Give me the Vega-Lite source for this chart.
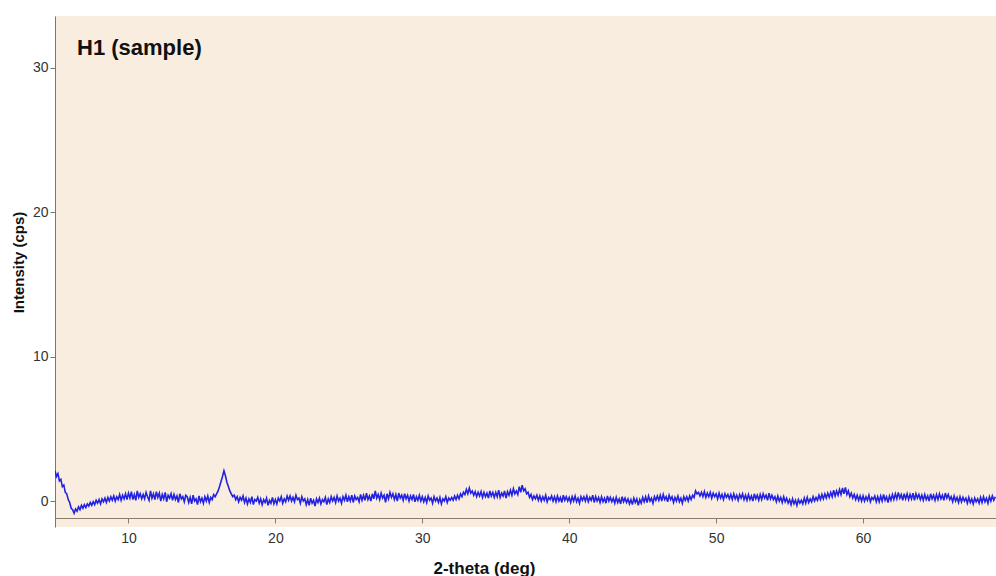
{
"$schema": "https://vega.github.io/schema/vega-lite/v6.json",
"width": 941, "height": 511,
"autosize": "none",
"padding": {"left": 55, "top": 16, "right": 0, "bottom": 49},
"background": "white",
"config": {"view": {"stroke": null, "fill": "#f9ede0"}, "font": "Liberation Sans"},
"title": {"text": "H1 (sample)", "anchor": "start", "frame": "group", "orient": "top", "offset": 0, "baseline": "alphabetic", "dx": 22, "dy": 61, "fontSize": 22, "fontWeight": "bold", "color": "#111111"},
"data": {"values": [
{"x":5.0,"y":2.1},{"x":5.1,"y":1.7},{"x":5.2,"y":1.9},{"x":5.3,"y":1.4},{"x":5.4,"y":1.5},{"x":5.5,"y":1.0},{"x":5.6,"y":1.1},{"x":5.7,"y":0.6},{"x":5.8,"y":0.5},{"x":5.9,"y":0.1},
{"x":6.0,"y":-0.1},{"x":6.1,"y":-0.5},{"x":6.2,"y":-0.6},{"x":6.3,"y":-0.85},{"x":6.4,"y":-0.55},{"x":6.5,"y":-0.7},{"x":6.6,"y":-0.4},{"x":6.7,"y":-0.6},{"x":6.8,"y":-0.3},{"x":6.9,"y":-0.5},
{"x":7.0,"y":-0.25},{"x":7.1,"y":-0.45},{"x":7.2,"y":-0.2},{"x":7.3,"y":-0.35},{"x":7.4,"y":-0.1},{"x":7.5,"y":-0.3},{"x":7.6,"y":-0.05},{"x":7.7,"y":-0.25},{"x":7.8,"y":0.05},{"x":7.9,"y":-0.15},
{"x":8.0,"y":0.1},{"x":8.1,"y":-0.2},{"x":8.2,"y":0.15},{"x":8.3,"y":-0.05},{"x":8.4,"y":0.2},{"x":8.5,"y":-0.1},{"x":8.6,"y":0.25},{"x":8.7,"y":0.0},{"x":8.8,"y":0.3},{"x":8.9,"y":0.05},
{"x":9.0,"y":0.35},{"x":9.1,"y":0.0},{"x":9.2,"y":0.3},{"x":9.3,"y":0.1},{"x":9.4,"y":0.45},{"x":9.5,"y":0.05},{"x":9.6,"y":0.4},{"x":9.7,"y":0.15},{"x":9.8,"y":0.5},{"x":9.9,"y":0.1},
{"x":10.0,"y":0.55},{"x":10.1,"y":0.2},{"x":10.2,"y":0.65},{"x":10.3,"y":0.1},{"x":10.4,"y":0.45},{"x":10.5,"y":0.05},{"x":10.6,"y":0.7},{"x":10.7,"y":0.25},{"x":10.8,"y":0.5},{"x":10.9,"y":0.15},
{"x":11.0,"y":0.45},{"x":11.1,"y":0.15},{"x":11.2,"y":0.6},{"x":11.3,"y":0.3},{"x":11.4,"y":0.05},{"x":11.5,"y":0.7},{"x":11.6,"y":0.2},{"x":11.7,"y":0.5},{"x":11.8,"y":0.1},{"x":11.9,"y":0.65},
{"x":12.0,"y":0.25},{"x":12.1,"y":0.55},{"x":12.2,"y":0.0},{"x":12.3,"y":0.45},{"x":12.4,"y":0.15},{"x":12.5,"y":0.6},{"x":12.6,"y":-0.05},{"x":12.7,"y":0.4},{"x":12.8,"y":0.2},{"x":12.9,"y":0.5},
{"x":13.0,"y":0.05},{"x":13.1,"y":0.45},{"x":13.2,"y":0.1},{"x":13.3,"y":0.35},{"x":13.4,"y":-0.1},{"x":13.5,"y":0.5},{"x":13.6,"y":0.15},{"x":13.7,"y":0.3},{"x":13.8,"y":-0.05},{"x":13.9,"y":0.4},
{"x":14.0,"y":0.3},{"x":14.1,"y":-0.1},{"x":14.2,"y":0.25},{"x":14.3,"y":-0.2},{"x":14.4,"y":0.4},{"x":14.5,"y":0.0},{"x":14.6,"y":0.15},{"x":14.7,"y":-0.25},{"x":14.8,"y":0.35},{"x":14.9,"y":-0.05},
{"x":15.0,"y":0.2},{"x":15.1,"y":-0.15},{"x":15.2,"y":0.3},{"x":15.3,"y":0.0},{"x":15.4,"y":0.35},{"x":15.5,"y":-0.1},{"x":15.6,"y":0.25},{"x":15.7,"y":0.1},{"x":15.8,"y":0.45},{"x":15.9,"y":0.3},
{"x":16.0,"y":0.5},{"x":16.1,"y":0.7},{"x":16.2,"y":1.0},{"x":16.3,"y":1.35},{"x":16.4,"y":1.7},{"x":16.5,"y":2.1},{"x":16.6,"y":1.75},{"x":16.7,"y":1.3},{"x":16.8,"y":1.0},{"x":16.9,"y":0.7},
{"x":17.0,"y":0.5},{"x":17.1,"y":0.3},{"x":17.2,"y":0.4},{"x":17.3,"y":0.1},{"x":17.4,"y":0.3},{"x":17.5,"y":-0.05},{"x":17.6,"y":0.25},{"x":17.7,"y":0.05},{"x":17.8,"y":0.35},{"x":17.9,"y":-0.1},
{"x":18.0,"y":0.2},{"x":18.1,"y":-0.2},{"x":18.2,"y":0.15},{"x":18.3,"y":-0.1},{"x":18.4,"y":0.3},{"x":18.5,"y":-0.25},{"x":18.6,"y":0.1},{"x":18.7,"y":0.0},{"x":18.8,"y":0.25},{"x":18.9,"y":-0.15},
{"x":19.0,"y":0.15},{"x":19.1,"y":-0.25},{"x":19.2,"y":0.1},{"x":19.3,"y":-0.1},{"x":19.4,"y":0.2},{"x":19.5,"y":-0.3},{"x":19.6,"y":0.05},{"x":19.7,"y":-0.15},{"x":19.8,"y":0.25},{"x":19.9,"y":-0.2},
{"x":20.0,"y":0.1},{"x":20.1,"y":-0.2},{"x":20.2,"y":0.2},{"x":20.3,"y":0.0},{"x":20.4,"y":0.3},{"x":20.5,"y":-0.15},{"x":20.6,"y":0.15},{"x":20.7,"y":-0.05},{"x":20.8,"y":0.35},{"x":20.9,"y":0.05},
{"x":21.0,"y":0.35},{"x":21.1,"y":0.0},{"x":21.2,"y":0.25},{"x":21.3,"y":-0.05},{"x":21.4,"y":0.4},{"x":21.5,"y":0.1},{"x":21.6,"y":0.2},{"x":21.7,"y":-0.15},{"x":21.8,"y":0.3},{"x":21.9,"y":0.0},
{"x":22.0,"y":0.15},{"x":22.1,"y":-0.25},{"x":22.2,"y":0.1},{"x":22.3,"y":-0.3},{"x":22.4,"y":0.2},{"x":22.5,"y":-0.15},{"x":22.6,"y":0.05},{"x":22.7,"y":-0.35},{"x":22.8,"y":0.15},{"x":22.9,"y":-0.1},
{"x":23.0,"y":0.2},{"x":23.1,"y":-0.2},{"x":23.2,"y":0.1},{"x":23.3,"y":-0.05},{"x":23.4,"y":0.25},{"x":23.5,"y":-0.25},{"x":23.6,"y":0.15},{"x":23.7,"y":-0.1},{"x":23.8,"y":0.3},{"x":23.9,"y":0.0},
{"x":24.0,"y":0.25},{"x":24.1,"y":-0.1},{"x":24.2,"y":0.35},{"x":24.3,"y":0.0},{"x":24.4,"y":0.2},{"x":24.5,"y":-0.15},{"x":24.6,"y":0.3},{"x":24.7,"y":0.05},{"x":24.8,"y":0.4},{"x":24.9,"y":-0.05},
{"x":25.0,"y":0.3},{"x":25.1,"y":0.0},{"x":25.2,"y":0.4},{"x":25.3,"y":-0.1},{"x":25.4,"y":0.35},{"x":25.5,"y":0.1},{"x":25.6,"y":0.25},{"x":25.7,"y":-0.05},{"x":25.8,"y":0.45},{"x":25.9,"y":0.05},
{"x":26.0,"y":0.4},{"x":26.1,"y":0.05},{"x":26.2,"y":0.55},{"x":26.3,"y":0.1},{"x":26.4,"y":0.35},{"x":26.5,"y":0.0},{"x":26.6,"y":0.5},{"x":26.7,"y":0.15},{"x":26.8,"y":0.7},{"x":26.9,"y":0.2},
{"x":27.0,"y":0.45},{"x":27.1,"y":0.1},{"x":27.2,"y":0.55},{"x":27.3,"y":0.2},{"x":27.4,"y":0.4},{"x":27.5,"y":-0.1},{"x":27.6,"y":0.5},{"x":27.7,"y":0.15},{"x":27.8,"y":0.6},{"x":27.9,"y":0.25},
{"x":28.0,"y":0.5},{"x":28.1,"y":0.1},{"x":28.2,"y":0.45},{"x":28.3,"y":0.0},{"x":28.4,"y":0.55},{"x":28.5,"y":0.2},{"x":28.6,"y":0.4},{"x":28.7,"y":0.05},{"x":28.8,"y":0.5},{"x":28.9,"y":0.15},
{"x":29.0,"y":0.4},{"x":29.1,"y":0.0},{"x":29.2,"y":0.35},{"x":29.3,"y":0.1},{"x":29.4,"y":0.45},{"x":29.5,"y":-0.05},{"x":29.6,"y":0.3},{"x":29.7,"y":0.05},{"x":29.8,"y":0.4},{"x":29.9,"y":0.0},
{"x":30.0,"y":0.3},{"x":30.1,"y":-0.05},{"x":30.2,"y":0.25},{"x":30.3,"y":-0.1},{"x":30.4,"y":0.35},{"x":30.5,"y":0.05},{"x":30.6,"y":0.2},{"x":30.7,"y":-0.15},{"x":30.8,"y":0.3},{"x":30.9,"y":0.0},
{"x":31.0,"y":0.2},{"x":31.1,"y":-0.1},{"x":31.2,"y":0.25},{"x":31.3,"y":-0.2},{"x":31.4,"y":0.15},{"x":31.5,"y":0.0},{"x":31.6,"y":0.3},{"x":31.7,"y":-0.1},{"x":31.8,"y":0.2},{"x":31.9,"y":0.05},
{"x":32.0,"y":0.25},{"x":32.1,"y":0.05},{"x":32.2,"y":0.35},{"x":32.3,"y":0.1},{"x":32.4,"y":0.4},{"x":32.5,"y":0.15},{"x":32.6,"y":0.5},{"x":32.7,"y":0.3},{"x":32.8,"y":0.6},{"x":32.9,"y":0.45},
{"x":33.0,"y":0.8},{"x":33.1,"y":0.5},{"x":33.2,"y":0.9},{"x":33.3,"y":0.55},{"x":33.4,"y":0.7},{"x":33.5,"y":0.4},{"x":33.6,"y":0.65},{"x":33.7,"y":0.3},{"x":33.8,"y":0.6},{"x":33.9,"y":0.35},
{"x":34.0,"y":0.65},{"x":34.1,"y":0.25},{"x":34.2,"y":0.6},{"x":34.3,"y":0.3},{"x":34.4,"y":0.55},{"x":34.5,"y":0.2},{"x":34.6,"y":0.7},{"x":34.7,"y":0.35},{"x":34.8,"y":0.6},{"x":34.9,"y":0.25},
{"x":35.0,"y":0.6},{"x":35.1,"y":0.3},{"x":35.2,"y":0.75},{"x":35.3,"y":0.25},{"x":35.4,"y":0.55},{"x":35.5,"y":0.35},{"x":35.6,"y":0.7},{"x":35.7,"y":0.2},{"x":35.8,"y":0.65},{"x":35.9,"y":0.4},
{"x":36.0,"y":0.75},{"x":36.1,"y":0.4},{"x":36.2,"y":0.85},{"x":36.3,"y":0.5},{"x":36.4,"y":0.7},{"x":36.5,"y":0.45},{"x":36.6,"y":1.0},{"x":36.7,"y":0.6},{"x":36.8,"y":1.1},{"x":36.9,"y":0.7},
{"x":37.0,"y":0.85},{"x":37.1,"y":0.5},{"x":37.2,"y":0.6},{"x":37.3,"y":0.25},{"x":37.4,"y":0.45},{"x":37.5,"y":0.1},{"x":37.6,"y":0.35},{"x":37.7,"y":0.15},{"x":37.8,"y":0.4},{"x":37.9,"y":0.05},
{"x":38.0,"y":0.35},{"x":38.1,"y":0.0},{"x":38.2,"y":0.3},{"x":38.3,"y":0.05},{"x":38.4,"y":0.4},{"x":38.5,"y":-0.05},{"x":38.6,"y":0.25},{"x":38.7,"y":0.1},{"x":38.8,"y":0.35},{"x":38.9,"y":0.0},
{"x":39.0,"y":0.3},{"x":39.1,"y":-0.05},{"x":39.2,"y":0.35},{"x":39.3,"y":0.0},{"x":39.4,"y":0.25},{"x":39.5,"y":-0.1},{"x":39.6,"y":0.4},{"x":39.7,"y":0.05},{"x":39.8,"y":0.3},{"x":39.9,"y":0.0},
{"x":40.0,"y":0.25},{"x":40.1,"y":-0.1},{"x":40.2,"y":0.3},{"x":40.3,"y":0.0},{"x":40.4,"y":0.35},{"x":40.5,"y":-0.05},{"x":40.6,"y":0.2},{"x":40.7,"y":-0.15},{"x":40.8,"y":0.3},{"x":40.9,"y":0.05},
{"x":41.0,"y":0.3},{"x":41.1,"y":0.0},{"x":41.2,"y":0.35},{"x":41.3,"y":-0.05},{"x":41.4,"y":0.25},{"x":41.5,"y":0.05},{"x":41.6,"y":0.4},{"x":41.7,"y":-0.1},{"x":41.8,"y":0.3},{"x":41.9,"y":0.0},
{"x":42.0,"y":0.25},{"x":42.1,"y":-0.1},{"x":42.2,"y":0.3},{"x":42.3,"y":-0.05},{"x":42.4,"y":0.2},{"x":42.5,"y":-0.15},{"x":42.6,"y":0.35},{"x":42.7,"y":0.0},{"x":42.8,"y":0.25},{"x":42.9,"y":-0.05},
{"x":43.0,"y":0.2},{"x":43.1,"y":-0.15},{"x":43.2,"y":0.25},{"x":43.3,"y":-0.1},{"x":43.4,"y":0.15},{"x":43.5,"y":-0.2},{"x":43.6,"y":0.3},{"x":43.7,"y":-0.05},{"x":43.8,"y":0.2},{"x":43.9,"y":-0.1},
{"x":44.0,"y":0.15},{"x":44.1,"y":-0.2},{"x":44.2,"y":0.1},{"x":44.3,"y":-0.25},{"x":44.4,"y":0.2},{"x":44.5,"y":-0.1},{"x":44.6,"y":0.15},{"x":44.7,"y":-0.3},{"x":44.8,"y":0.1},{"x":44.9,"y":-0.15},
{"x":45.0,"y":0.25},{"x":45.1,"y":-0.05},{"x":45.2,"y":0.3},{"x":45.3,"y":-0.1},{"x":45.4,"y":0.35},{"x":45.5,"y":0.0},{"x":45.6,"y":0.2},{"x":45.7,"y":-0.15},{"x":45.8,"y":0.3},{"x":45.9,"y":0.05},
{"x":46.0,"y":0.35},{"x":46.1,"y":0.05},{"x":46.2,"y":0.4},{"x":46.3,"y":0.0},{"x":46.4,"y":0.45},{"x":46.5,"y":0.1},{"x":46.6,"y":0.3},{"x":46.7,"y":-0.05},{"x":46.8,"y":0.4},{"x":46.9,"y":0.1},
{"x":47.0,"y":0.3},{"x":47.1,"y":-0.1},{"x":47.2,"y":0.25},{"x":47.3,"y":0.0},{"x":47.4,"y":0.35},{"x":47.5,"y":-0.05},{"x":47.6,"y":0.2},{"x":47.7,"y":-0.15},{"x":47.8,"y":0.3},{"x":47.9,"y":0.05},
{"x":48.0,"y":0.3},{"x":48.1,"y":0.0},{"x":48.2,"y":0.35},{"x":48.3,"y":0.1},{"x":48.4,"y":0.4},{"x":48.5,"y":0.25},{"x":48.6,"y":0.7},{"x":48.7,"y":0.5},{"x":48.8,"y":0.6},{"x":48.9,"y":0.35},
{"x":49.0,"y":0.6},{"x":49.1,"y":0.3},{"x":49.2,"y":0.65},{"x":49.3,"y":0.25},{"x":49.4,"y":0.55},{"x":49.5,"y":0.3},{"x":49.6,"y":0.6},{"x":49.7,"y":0.2},{"x":49.8,"y":0.55},{"x":49.9,"y":0.3},
{"x":50.0,"y":0.5},{"x":50.1,"y":0.15},{"x":50.2,"y":0.55},{"x":50.3,"y":0.2},{"x":50.4,"y":0.45},{"x":50.5,"y":0.1},{"x":50.6,"y":0.5},{"x":50.7,"y":0.25},{"x":50.8,"y":0.45},{"x":50.9,"y":0.15},
{"x":51.0,"y":0.45},{"x":51.1,"y":0.1},{"x":51.2,"y":0.5},{"x":51.3,"y":0.15},{"x":51.4,"y":0.4},{"x":51.5,"y":0.05},{"x":51.6,"y":0.45},{"x":51.7,"y":0.2},{"x":51.8,"y":0.5},{"x":51.9,"y":0.1},
{"x":52.0,"y":0.4},{"x":52.1,"y":0.05},{"x":52.2,"y":0.45},{"x":52.3,"y":0.1},{"x":52.4,"y":0.35},{"x":52.5,"y":0.0},{"x":52.6,"y":0.5},{"x":52.7,"y":0.15},{"x":52.8,"y":0.4},{"x":52.9,"y":0.05},
{"x":53.0,"y":0.45},{"x":53.1,"y":0.1},{"x":53.2,"y":0.5},{"x":53.3,"y":0.2},{"x":53.4,"y":0.4},{"x":53.5,"y":0.05},{"x":53.6,"y":0.55},{"x":53.7,"y":0.15},{"x":53.8,"y":0.4},{"x":53.9,"y":0.1},
{"x":54.0,"y":0.3},{"x":54.1,"y":-0.05},{"x":54.2,"y":0.35},{"x":54.3,"y":0.0},{"x":54.4,"y":0.25},{"x":54.5,"y":-0.1},{"x":54.6,"y":0.3},{"x":54.7,"y":-0.05},{"x":54.8,"y":0.2},{"x":54.9,"y":-0.15},
{"x":55.0,"y":0.1},{"x":55.1,"y":-0.25},{"x":55.2,"y":0.15},{"x":55.3,"y":-0.2},{"x":55.4,"y":0.05},{"x":55.5,"y":-0.3},{"x":55.6,"y":0.1},{"x":55.7,"y":-0.15},{"x":55.8,"y":0.05},{"x":55.9,"y":-0.2},
{"x":56.0,"y":0.2},{"x":56.1,"y":-0.15},{"x":56.2,"y":0.25},{"x":56.3,"y":-0.1},{"x":56.4,"y":0.15},{"x":56.5,"y":-0.05},{"x":56.6,"y":0.3},{"x":56.7,"y":0.0},{"x":56.8,"y":0.25},{"x":56.9,"y":0.05},
{"x":57.0,"y":0.4},{"x":57.1,"y":0.1},{"x":57.2,"y":0.45},{"x":57.3,"y":0.15},{"x":57.4,"y":0.5},{"x":57.5,"y":0.2},{"x":57.6,"y":0.55},{"x":57.7,"y":0.25},{"x":57.8,"y":0.6},{"x":57.9,"y":0.3},
{"x":58.0,"y":0.75},{"x":58.1,"y":0.35},{"x":58.2,"y":0.7},{"x":58.3,"y":0.4},{"x":58.4,"y":0.8},{"x":58.5,"y":0.45},{"x":58.6,"y":0.9},{"x":58.7,"y":0.5},{"x":58.8,"y":0.95},{"x":58.9,"y":0.45},
{"x":59.0,"y":0.7},{"x":59.1,"y":0.3},{"x":59.2,"y":0.55},{"x":59.3,"y":0.2},{"x":59.4,"y":0.45},{"x":59.5,"y":0.1},{"x":59.6,"y":0.4},{"x":59.7,"y":0.05},{"x":59.8,"y":0.35},{"x":59.9,"y":0.0},
{"x":60.0,"y":0.35},{"x":60.1,"y":0.0},{"x":60.2,"y":0.3},{"x":60.3,"y":0.05},{"x":60.4,"y":0.4},{"x":60.5,"y":-0.05},{"x":60.6,"y":0.25},{"x":60.7,"y":0.1},{"x":60.8,"y":0.35},{"x":60.9,"y":-0.05},
{"x":61.0,"y":0.3},{"x":61.1,"y":-0.05},{"x":61.2,"y":0.35},{"x":61.3,"y":0.0},{"x":61.4,"y":0.45},{"x":61.5,"y":0.05},{"x":61.6,"y":0.3},{"x":61.7,"y":-0.1},{"x":61.8,"y":0.35},{"x":61.9,"y":0.05},
{"x":62.0,"y":0.45},{"x":62.1,"y":0.1},{"x":62.2,"y":0.5},{"x":62.3,"y":0.15},{"x":62.4,"y":0.6},{"x":62.5,"y":0.2},{"x":62.6,"y":0.45},{"x":62.7,"y":0.05},{"x":62.8,"y":0.5},{"x":62.9,"y":0.15},
{"x":63.0,"y":0.5},{"x":63.1,"y":0.1},{"x":63.2,"y":0.45},{"x":63.3,"y":0.15},{"x":63.4,"y":0.55},{"x":63.5,"y":0.05},{"x":63.6,"y":0.5},{"x":63.7,"y":0.2},{"x":63.8,"y":0.45},{"x":63.9,"y":0.1},
{"x":64.0,"y":0.4},{"x":64.1,"y":0.05},{"x":64.2,"y":0.45},{"x":64.3,"y":0.1},{"x":64.4,"y":0.35},{"x":64.5,"y":0.0},{"x":64.6,"y":0.5},{"x":64.7,"y":0.15},{"x":64.8,"y":0.4},{"x":64.9,"y":0.05},
{"x":65.0,"y":0.45},{"x":65.1,"y":0.1},{"x":65.2,"y":0.5},{"x":65.3,"y":0.15},{"x":65.4,"y":0.4},{"x":65.5,"y":0.05},{"x":65.6,"y":0.55},{"x":65.7,"y":0.2},{"x":65.8,"y":0.45},{"x":65.9,"y":0.1},
{"x":66.0,"y":0.3},{"x":66.1,"y":-0.05},{"x":66.2,"y":0.35},{"x":66.3,"y":0.0},{"x":66.4,"y":0.25},{"x":66.5,"y":-0.1},{"x":66.6,"y":0.3},{"x":66.7,"y":-0.05},{"x":66.8,"y":0.25},{"x":66.9,"y":0.0},
{"x":67.0,"y":0.2},{"x":67.1,"y":-0.15},{"x":67.2,"y":0.25},{"x":67.3,"y":-0.1},{"x":67.4,"y":0.15},{"x":67.5,"y":-0.2},{"x":67.6,"y":0.2},{"x":67.7,"y":-0.05},{"x":67.8,"y":0.15},{"x":67.9,"y":-0.15},
{"x":68.0,"y":0.25},{"x":68.1,"y":-0.1},{"x":68.2,"y":0.3},{"x":68.3,"y":-0.05},{"x":68.4,"y":0.2},{"x":68.5,"y":-0.15},{"x":68.6,"y":0.3},{"x":68.7,"y":0.0},{"x":68.8,"y":0.35},{"x":68.9,"y":0.05},
{"x":69.0,"y":0.3}
]},
"mark": {"type": "line", "color": "#2222e0", "strokeWidth": 1.6, "clip": true},
"encoding": {
  "x": {"field": "x", "type": "quantitative",
    "scale": {"domain": [5, 69.05], "nice": false, "zero": false},
    "axis": {"title": "2-theta (deg)", "values": [10, 20, 30, 40, 50, 60], "offset": -9, "grid": false,
      "domainColor": "#8c7b6b", "tickColor": "#8c7b6b", "tickSize": 5, "labelFontSize": 14, "labelColor": "#333333", "labelPadding": 8,
      "titleFontSize": 17, "titleFontWeight": "bold", "titleColor": "#111111", "titleX": 429, "titleY": 55, "titleBaseline": "alphabetic", "titleAlign": "center"}},
  "y": {"field": "y", "type": "quantitative",
    "scale": {"domain": [-1.8, 33.6], "nice": false, "zero": false},
    "axis": {"title": "Intensity (cps)", "values": [0, 10, 20, 30], "grid": false,
      "domainColor": "#777777", "tickColor": "#777777", "tickSize": 5, "labelFontSize": 14, "labelColor": "#333333", "labelPadding": 2,
      "titleFontSize": 15, "titleFontWeight": "bold", "titleColor": "#111111", "titleX": -37, "titleY": 246, "titleAngle": -90, "titleBaseline": "middle", "titleAlign": "center"}}
}
}
